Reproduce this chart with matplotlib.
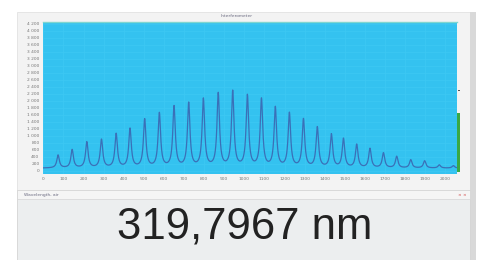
import numpy as np
import matplotlib.pyplot as plt
from matplotlib.patches import Rectangle
from matplotlib.ticker import FuncFormatter

peak_pos = [73, 143, 216, 289, 362, 431, 504, 577, 650, 723, 796, 870, 942,
            1015, 1085, 1154, 1224, 1294, 1363, 1433, 1493, 1559, 1625, 1692,
            1758, 1828, 1897, 1970, 2040]
peak_height = [449, 600, 820, 886, 1049, 1191, 1457, 1629, 1820, 1914, 2029,
               2186, 2249, 2129, 2029, 1791, 1629, 1457, 1229, 1029, 906, 743,
               629, 506, 409, 314, 286, 171, 150]
baseline = 80
y_ticks = list(range(0, 4201, 200))
x_ticks = list(range(0, 2001, 100))
title = "Interferometer"
panel_label = "Wavelength, air"
reading = "319,7967 nm"

W, H = 479, 260
fig = plt.figure(figsize=(W / 100, H / 100), dpi=100)
fig.patch.set_facecolor("white")

# capa de fondo en coordenadas de píxel
bg = fig.add_axes([0, 0, 1, 1], zorder=0)
bg.set_xlim(0, W)
bg.set_ylim(H, 0)
bg.axis("off")
bg.add_patch(Rectangle((17, 12), 453, 178, fc="#f3f3f3", ec="#e2e2e2", lw=0.6))
bg.add_patch(Rectangle((470, 12), 6, 248, fc="#d9d9d9", ec="none"))
bg.add_patch(Rectangle((17, 190), 453, 70, fc="#eceeef", ec="#d4d4d4", lw=0.6))
bg.add_patch(Rectangle((17, 190), 453, 9, fc="#f5f5f5", ec="#d4d4d4", lw=0.5))
bg.add_patch(Rectangle((457, 113), 3, 59, fc="#3aa844", ec="none"))
bg.add_patch(Rectangle((458, 89.5), 2.5, 1.2, fc="#555555", ec="none"))
bg.text(237, 16, title, fontsize=3.2, color="#6a6a80", ha="center", va="center")
bg.text(24, 195, panel_label, fontsize=3.2, color="#6a6a80", ha="left", va="center")
bg.text(462, 195, "\u00d7 \u00d7", fontsize=3.2, color="#d04040", ha="center", va="center")
bg.text(244.5, 227, reading, fontsize=31.5, color="#222222", ha="center", va="center",
        family=["Liberation Sans", "DejaVu Sans"])

# área del gráfico
ax = fig.add_axes([43 / W, (H - 174) / H, (457 - 43) / W, (174 - 22) / H], zorder=1)
ax.set_facecolor("#34c2f0")

x = np.linspace(0, 2055, 4000)
gamma = 7.5
y = np.full_like(x, baseline, dtype=float)
for p, h in zip(peak_pos, peak_height):
    y += (h - baseline) * gamma**2 / ((x - p) ** 2 + gamma**2)
ax.plot(x, y, color="#3a70b8", lw=0.9)

ax.set_xlim(-2, 2058)
ax.set_ylim(-86, 4257)
ax.set_xticks(x_ticks)
ax.set_yticks(y_ticks)
ax.yaxis.set_major_formatter(FuncFormatter(lambda v, _: f"{v:,.0f}".replace(",", " ")))
ax.tick_params(length=0, labelsize=3.2, colors="#777777", pad=2.5)
ax.grid(True, color="#3ec8f3", lw=0.5)
ax.set_axisbelow(True)
for s in ax.spines.values():
    s.set_visible(False)
ax.spines["top"].set_visible(True)
ax.spines["top"].set_color("#7fd6d0")
ax.spines["top"].set_linewidth(1.0)

fig.savefig("out.png", dpi=100)
